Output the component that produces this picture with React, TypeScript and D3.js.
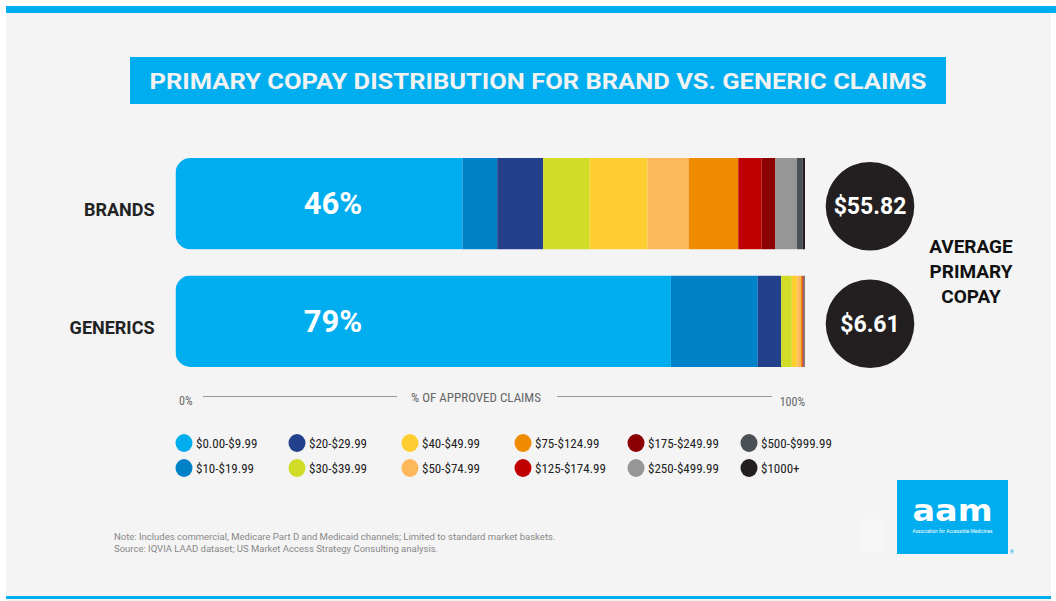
import React from "react";
import * as d3 from "d3";

// copay buckets (legend order)
const categories = [
  "$0.00-$9.99",
  "$10-$19.99",
  "$20-$29.99",
  "$30-$39.99",
  "$40-$49.99",
  "$50-$74.99",
  "$75-$124.99",
  "$125-$174.99",
  "$175-$249.99",
  "$250-$499.99",
  "$500-$999.99",
  "$1000+",
];
const colors = [
  "#00aeef",
  "#0082c8",
  "#22408c",
  "#d0dc26",
  "#fecd30",
  "#fdb85c",
  "#ee8b00",
  "#c00000",
  "#8b0000",
  "#969696",
  "#4a5056",
  "#231f20",
];
const groups = ["BRANDS", "GENERICS"];
// share of approved claims, %
const brandsShare = [45.6, 5.5, 7.3, 7.4, 9.2, 6.5, 7.9, 3.7, 2.2, 3.4, 0.9, 0.4];
const genericsShare = [78.7, 13.8, 3.7, 1.7, 0.9, 0.5, 0.3, 0.1, 0.1, 0.1, 0.05, 0.05];
const headline = ["46%", "79%"];
const avgCopay = ["$55.82", "$6.61"];
const axisTicks = ["0%", "100%"];

const W = 1056;
const H = 601;

const App: React.FC = () => {
  const table = groups.map((g, i) => {
    const row: Record<string, any> = { group: g };
    const vals = i === 0 ? brandsShare : genericsShare;
    categories.forEach((c, j) => (row[c] = vals[j]));
    return row;
  });
  const series = d3.stack<any>().keys(categories)(table);

  const x = d3.scaleLinear().domain([0, 100]).range([175.5, 805]);
  const y = d3
    .scaleBand()
    .domain(groups)
    .range([158, 367])
    .paddingInner(0.222)
    .paddingOuter(0);
  const bw = y.bandwidth();
  const r = 15;

  const clip = (g: string) => {
    const x0 = x(0);
    const x1 = x(100);
    const y0 = y(g)!;
    const y1 = y0 + bw;
    return `M${x0 + r},${y0}H${x1}V${y1}H${x0 + r}A${r},${r} 0 0 1 ${x0},${y1 - r}V${y0 + r}A${r},${r} 0 0 1 ${x0 + r},${y0}Z`;
  };

  // legend: 6 columns x 2 rows, filled column by column
  const legX = d3.scaleLinear().domain([0, 5]).range([184, 749]);
  const legY = d3.scaleLinear().domain([0, 1]).range([443, 468]);

  const narrow = "'Liberation Sans Narrow', 'Roboto Condensed', Roboto, sans-serif";

  return (
    <svg
      width={W}
      height={H}
      style={{ position: "absolute", left: 0, top: 0 }}
      fontFamily="Roboto, sans-serif"
    >
      <rect x={0} y={0} width={W} height={H} fill="#ffffff" />
      <rect x={6} y={6} width={1045} height={595} fill="#f4f4f4" />
      <rect x={6} y={6} width={1050} height={7} fill="#00aeef" />
      <rect x={6} y={596} width={1045} height={3} fill="#00aeef" />

      {/* title */}
      <rect x={130} y={57} width={816} height={47} fill="#00aeef" />
      <text
        x={538}
        y={88.5}
        textAnchor="middle"
        fill="#f2f2f2"
        fontSize={22}
        fontWeight="bold"
        textLength={777}
        lengthAdjust="spacingAndGlyphs"
      >
        PRIMARY COPAY DISTRIBUTION FOR BRAND VS. GENERIC CLAIMS
      </text>

      <defs>
        {groups.map((g, i) => (
          <clipPath id={`clip-${i}`} key={g}>
            <path d={clip(g)} />
          </clipPath>
        ))}
      </defs>

      {/* stacked bars */}
      {groups.map((g, gi) => (
        <g key={g} clipPath={`url(#clip-${gi})`}>
          {series.map((s, si) => (
            <rect
              key={s.key}
              x={x(s[gi][0])}
              y={y(g)}
              width={Math.max(0, x(s[gi][1]) - x(s[gi][0]))}
              height={bw}
              fill={colors[si]}
            />
          ))}
        </g>
      ))}

      {/* group labels + headline share */}
      {groups.map((g, gi) => (
        <g key={`lab-${g}`}>
          <text
            x={154.5}
            y={y(g)! + bw / 2 + 12.5}
            textAnchor="end"
            fontSize={18}
            fontWeight="bold"
            fill="#222"
          >
            {g}
          </text>
          <text
            x={x(25)}
            y={y(g)! + bw / 2 + 10.5}
            textAnchor="middle"
            fontSize={31}
            fontWeight="bold"
            fill="#ffffff"
          >
            {headline[gi]}
          </text>
          <circle cx={870} cy={y(g)! + bw / 2 + 2.5} r={44.3} fill="#231f20" />
          <text
            x={870}
            y={y(g)! + bw / 2 + 10.5}
            textAnchor="middle"
            fontSize={23}
            fontWeight="bold"
            fill="#ffffff"
          >
            {avgCopay[gi]}
          </text>
        </g>
      ))}

      {["AVERAGE", "PRIMARY", "COPAY"].map((t, i) => (
        <text
          key={t}
          x={971}
          y={253 + i * 25}
          textAnchor="middle"
          fontSize={19}
          fontWeight="bold"
          fill="#111"
        >
          {t}
        </text>
      ))}

      {/* axis */}
      <g fontSize={12} fill="#666" fontFamily={narrow}>
        <text x={x(0) + 3.5} y={404.5} textAnchor="start">
          {axisTicks[0]}
        </text>
        <text x={x(100)} y={405.5} textAnchor="end">
          {axisTicks[1]}
        </text>
        <text x={476} y={402} textAnchor="middle" fontSize={13}>
          % OF APPROVED CLAIMS
        </text>
        <line x1={203} x2={397} y1={396.5} y2={396.5} stroke="#999" strokeWidth={1} />
        <line x1={557} x2={772} y1={396.5} y2={396.5} stroke="#999" strokeWidth={1} />
      </g>

      {/* legend */}
      {categories.map((c, i) => {
        const col = Math.floor(i / 2);
        const row = i % 2;
        const cx = legX(col);
        const cy = legY(row);
        return (
          <g key={c}>
            <ellipse cx={cx} cy={cy} rx={8.5} ry={9} fill={colors[i]} />
            <text x={cx + 12} y={cy + 5} fontSize={13} fill="#222" fontFamily={narrow}>
              {c}
            </text>
          </g>
        );
      })}

      {/* notes */}
      <g fontSize={9.5} fill="#888">
        <text x={114} y={540}>
          Note: Includes commercial, Medicare Part D and Medicaid channels; Limited to standard market baskets.
        </text>
        <text x={114} y={552}>
          Source: IQVIA LAAD dataset; US Market Access Strategy Consulting analysis.
        </text>
      </g>

      {/* logo */}
      <rect x={860} y={519} width={23} height={33} fill="#ffffff" opacity={0.3} />
      <rect x={897} y={480} width={111} height={74} fill="#00aeef" />
      <text
        x={952.5}
        y={521}
        textAnchor="middle"
        fontSize={31}
        fontWeight="bold"
        fill="#ffffff"
        fontFamily="'DejaVu Sans', sans-serif"
        textLength={80}
        lengthAdjust="spacingAndGlyphs"
      >
        aam
      </text>
      <text
        x={952.5}
        y={533}
        textAnchor="middle"
        fontSize={4.5}
        fill="#ffffff"
        textLength={80}
        lengthAdjust="spacingAndGlyphs"
      >
        Association for Accessible Medicines
      </text>
      <text x={1010} y={554} fontSize={5} fill="#00aeef">
        ®
      </text>
    </svg>
  );
};

export default App;
